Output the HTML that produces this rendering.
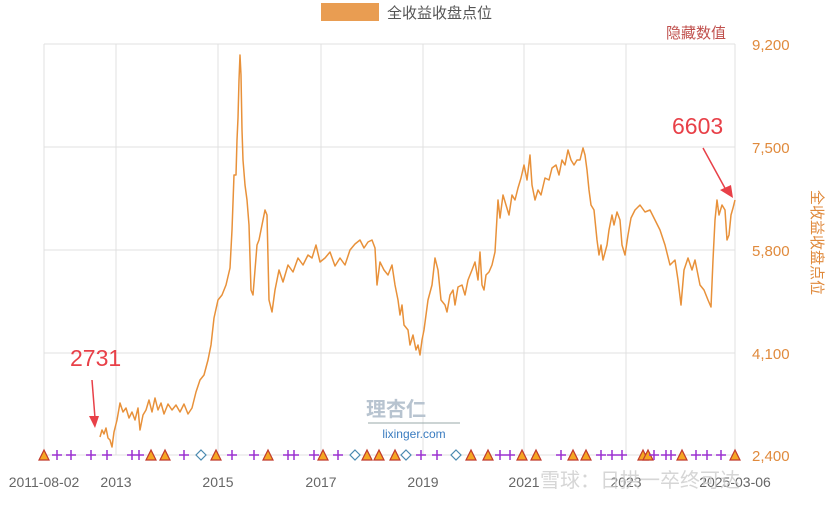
<!DOCTYPE html>
<html><head><meta charset="utf-8"><style>
body{margin:0;background:#fff;}
svg text{font-family:"Liberation Sans","Noto Sans CJK SC",sans-serif;}
</style></head><body>
<svg width="833" height="500" xmlns="http://www.w3.org/2000/svg">
<rect x="321" y="3" width="58" height="18" fill="#e99d52"/>
<text x="387" y="18" font-size="15" fill="#555">全收益收盘点位</text>
<g stroke="#e0e0e0" stroke-width="1">
<line x1="44" y1="44" x2="735" y2="44"/><line x1="44" y1="147" x2="735" y2="147"/>
<line x1="44" y1="250" x2="735" y2="250"/><line x1="44" y1="353" x2="735" y2="353"/>
<line x1="44" y1="455" x2="735" y2="455"/>
<line x1="44" y1="44" x2="44" y2="455"/><line x1="116" y1="44" x2="116" y2="455"/>
<line x1="218" y1="44" x2="218" y2="455"/><line x1="321" y1="44" x2="321" y2="455"/>
<line x1="423" y1="44" x2="423" y2="455"/><line x1="524" y1="44" x2="524" y2="455"/>
<line x1="626" y1="44" x2="626" y2="455"/><line x1="735" y1="44" x2="735" y2="455"/>
</g>
<text x="666" y="38" font-size="15" fill="#c0504d">隐藏数值</text>
<g font-size="15" fill="#e08a3c">
<text x="752" y="50">9,200</text><text x="752" y="153">7,500</text>
<text x="752" y="256">5,800</text><text x="752" y="359">4,100</text><text x="752" y="461">2,400</text>
</g>
<text font-size="15" fill="#e08a3c" transform="translate(812,190) rotate(90)">全收益收盘点位</text>
<g font-size="14" fill="#666" text-anchor="middle">
<text x="44" y="487">2011-08-02</text><text x="116" y="487">2013</text><text x="218" y="487">2015</text>
<text x="321" y="487">2017</text><text x="423" y="487">2019</text><text x="524" y="487">2021</text>
<text x="626" y="487">2023</text><text x="735" y="487">2025-03-06</text>
</g>
<text x="640" y="487" font-size="20" fill="#ccc" opacity="0.8" text-anchor="middle">雪球：日拱一卒终可达</text>
<text x="396" y="416" font-size="20" fill="#b8c4d0" text-anchor="middle" font-weight="bold">理杏仁</text>
<line x1="368" y1="423" x2="460" y2="423" stroke="#9aa" stroke-width="1"/>
<text x="414" y="438" font-size="12" fill="#3a7cc0" text-anchor="middle">lixinger.com</text>
<polyline fill="none" stroke="#e8913a" stroke-width="1.5" stroke-linejoin="round" points="100,437 102,430 104,434 106,428 108,438 110,440 112,447 114,432 117,420 120,403 123,412 126,408 129,418 132,412 135,420 138,408 140,430 143,415 146,410 149,400 152,412 155,398 158,410 161,403 164,414 168,404 172,410 176,405 180,412 184,404 188,414 192,408 196,392 200,380 204,375 208,360 211,345 214,318 218,300 222,295 226,285 230,268 232,230 234,175 236,175 237,140 238,118 239,80 240,55 241,75 242,130 243,160 245,185 247,200 249,225 251,290 253,295 255,270 257,245 259,240 262,225 265,210 267,215 269,300 272,312 275,290 279,270 283,282 288,265 293,272 298,258 303,265 308,255 312,258 316,245 320,262 325,258 330,252 335,266 340,258 345,265 350,250 355,244 360,240 364,248 368,242 372,240 375,248 377,285 380,262 384,270 388,275 392,265 395,285 398,300 400,315 402,305 404,325 408,330 410,345 413,335 416,350 418,345 420,355 422,340 424,330 428,300 432,285 435,258 438,270 441,300 445,305 447,312 450,295 453,290 455,305 458,287 462,285 465,295 468,280 472,270 475,262 478,280 480,252 482,285 484,290 486,275 489,272 492,265 495,252 498,200 500,218 503,195 506,205 509,215 512,195 515,200 518,188 521,178 524,165 527,180 530,155 532,185 535,200 538,190 541,195 545,178 549,180 552,168 556,165 559,175 562,160 565,165 568,150 571,160 574,165 577,160 580,160 583,148 585,155 587,170 589,190 591,205 594,210 597,240 599,255 601,245 603,260 607,245 609,230 612,215 614,225 617,212 620,220 622,245 625,255 628,235 631,218 635,210 640,205 645,212 650,210 655,220 660,230 665,245 670,265 675,260 678,280 681,305 684,270 688,258 692,270 695,260 700,285 704,290 708,300 711,307 713,260 715,220 717,200 719,215 722,205 725,210 727,240 729,235 731,215 733,208 735,200"/>
<text x="70" y="366" font-size="23" fill="#e84048">2731</text>
<line x1="92" y1="380" x2="95" y2="418" stroke="#e84048" stroke-width="1.5"/>
<polygon points="89,416 99,416 95,428" fill="#e84048"/>
<text x="672" y="134" font-size="23" fill="#e84048">6603</text>
<line x1="703" y1="148" x2="726" y2="190" stroke="#e84048" stroke-width="1.5"/>
<polygon points="720,190 731,185 733,198" fill="#e84048"/>
<g fill="#f5a623" stroke="#c0392b" stroke-width="1.2">
<polygon points="44,450 39,460 49,460"/><polygon points="151,450 146,460 156,460"/><polygon points="165,450 160,460 170,460"/><polygon points="216,450 211,460 221,460"/><polygon points="268,450 263,460 273,460"/><polygon points="323,450 318,460 328,460"/><polygon points="367,450 362,460 372,460"/><polygon points="379,450 374,460 384,460"/><polygon points="395,450 390,460 400,460"/><polygon points="471,450 466,460 476,460"/><polygon points="488,450 483,460 493,460"/><polygon points="522,450 517,460 527,460"/><polygon points="536,450 531,460 541,460"/><polygon points="573,450 568,460 578,460"/><polygon points="586,450 581,460 591,460"/><polygon points="643,450 638,460 648,460"/><polygon points="648,450 643,460 653,460"/><polygon points="682,450 677,460 687,460"/><polygon points="735,450 730,460 740,460"/>
</g>
<g stroke="#9b30d0" stroke-width="1.5">
<path d="M52 455h10M57 450v10M66 455h10M71 450v10M86 455h10M91 450v10M102 455h10M107 450v10M127 455h10M132 450v10M134 455h10M139 450v10M179 455h10M184 450v10M227 455h10M232 450v10M249 455h10M254 450v10M283 455h10M288 450v10M289 455h10M294 450v10M309 455h10M314 450v10M333 455h10M338 450v10M416 455h10M421 450v10M432 455h10M437 450v10M495 455h10M500 450v10M505 455h10M510 450v10M556 455h10M561 450v10M596 455h10M601 450v10M607 455h10M612 450v10M617 455h10M622 450v10M649 455h10M654 450v10M661 455h10M666 450v10M666 455h10M671 450v10M691 455h10M696 450v10M702 455h10M707 450v10M716 455h10M721 450v10"/>
</g>
<g fill="#fff" stroke="#4a8ab0" stroke-width="1.2">
<polygon points="201,450 206,455 201,460 196,455"/><polygon points="355,450 360,455 355,460 350,455"/><polygon points="406,450 411,455 406,460 401,455"/><polygon points="456,450 461,455 456,460 451,455"/>
</g>
</svg>
</body></html>
